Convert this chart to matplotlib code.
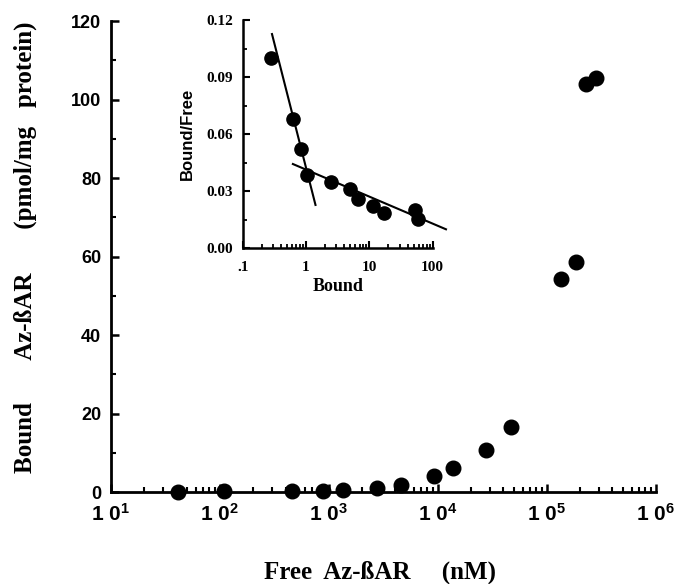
import matplotlib
matplotlib.use("Agg")
import matplotlib.pyplot as plt
from matplotlib.ticker import LogLocator, FixedLocator, FixedFormatter, NullFormatter, MultipleLocator
import numpy as np

# ---- data ----
free_nM = [41, 109, 455, 890, 1350, 2770, 4550, 9250, 13800, 27500, 46400,
           136000, 187000, 228000, 282000]
bound_main = [0.0, 0.3, 0.3, 0.3, 0.6, 1.0, 1.8, 4.1, 6.0, 10.7, 16.6,
              54.4, 58.7, 103.9, 105.4]

inset_bound = [0.28, 0.62, 0.83, 1.04, 2.5, 4.9, 6.6, 11.4, 17.0, 53.0, 58.0]
inset_bf = [0.100, 0.068, 0.052, 0.0385, 0.035, 0.031, 0.026, 0.022, 0.0187, 0.020, 0.0152]

fit_high_x = [0.29, 1.41]
fit_high_y = [0.1126, 0.0228]
fit_low_x = [0.62, 162.0]
fit_low_y = [0.0443, 0.010]

main_xticks = [1e1, 1e2, 1e3, 1e4, 1e5, 1e6]
main_xticklabels = [r"$\mathbf{1\ 0^{1}}$", r"$\mathbf{1\ 0^{2}}$", r"$\mathbf{1\ 0^{3}}$",
                    r"$\mathbf{1\ 0^{4}}$", r"$\mathbf{1\ 0^{5}}$", r"$\mathbf{1\ 0^{6}}$"]
main_yticks = [0, 20, 40, 60, 80, 100, 120]
inset_xticks = [0.1, 1, 10, 100]
inset_xticklabels = [".1", "1", "10", "100"]
inset_yticks = [0.0, 0.03, 0.06, 0.09, 0.12]
inset_yticklabels = ["0.00", "0.03", "0.06", "0.09", "0.12"]

plt.rcParams['mathtext.fontset'] = 'custom'
plt.rcParams['mathtext.rm'] = 'Liberation Sans:bold'
plt.rcParams['mathtext.it'] = 'Liberation Sans:bold'
plt.rcParams['mathtext.bf'] = 'Liberation Sans:bold'

SANS = ['Liberation Sans Narrow', 'Liberation Sans', 'DejaVu Sans']
SERIF = ['Liberation Serif', 'DejaVu Serif']

fig = plt.figure(figsize=(6.81, 5.84), dpi=100)
ax = fig.add_axes([0.163, 0.1575, 0.800, 0.8065])

ax.set_xscale('log')
ax.set_xlim(10, 1e6)
ax.set_ylim(0, 120)
ax.plot(free_nM, bound_main, 'o', color='black', ms=10.5, clip_on=False, zorder=5)

for s in ['top', 'right']:
    ax.spines[s].set_visible(False)
for s in ['left', 'bottom']:
    ax.spines[s].set_linewidth(2.0)

ax.xaxis.set_major_locator(FixedLocator(main_xticks))
ax.xaxis.set_major_formatter(FixedFormatter(main_xticklabels))
ax.xaxis.set_minor_locator(LogLocator(base=10, subs=np.arange(2, 10), numticks=20))
ax.xaxis.set_minor_formatter(NullFormatter())
ax.yaxis.set_major_locator(FixedLocator(main_yticks))
ax.yaxis.set_minor_locator(MultipleLocator(10))
ax.tick_params(axis='both', which='major', direction='in', length=6, width=1.8)
ax.tick_params(axis='both', which='minor', direction='in', length=3.5, width=1.5)
ax.tick_params(axis='x', which='major', pad=8, labelsize=15)
ax.tick_params(axis='y', which='major', pad=7, labelsize=13)
for lbl in ax.get_yticklabels():
    lbl.set_family(SANS)
    lbl.set_fontweight('bold')

fig.text(380/681, 1 - 572/584, "Free  Az-\u00dfAR     (nM)", ha='center', va='center',
         fontsize=18, fontweight='bold', family=SERIF)
fig.text(25/681, 1 - 247/584, "Bound       Az-\u00dfAR       (pmol/mg   protein)",
         ha='center', va='center', rotation=90,
         fontsize=18, fontweight='bold', family=SERIF)

# ---- inset ----
ins = fig.add_axes([0.3564, 0.5748, 0.279, 0.391])
ins.set_xscale('log')
ins.set_xlim(0.1, 100)
ins.set_ylim(0, 0.12)
ins.plot(inset_bound, inset_bf, 'o', color='black', ms=9.5, clip_on=False, zorder=5)
ins.plot(fit_high_x, fit_high_y, '-', color='black', lw=1.5, clip_on=False)
ins.plot(fit_low_x, fit_low_y, '-', color='black', lw=1.5, clip_on=False)
for s in ['top', 'right']:
    ins.spines[s].set_visible(False)
for s in ['left', 'bottom']:
    ins.spines[s].set_linewidth(1.8)
ins.xaxis.set_major_locator(FixedLocator(inset_xticks))
ins.xaxis.set_major_formatter(FixedFormatter(inset_xticklabels))
ins.xaxis.set_minor_locator(LogLocator(base=10, subs=np.arange(2, 10), numticks=20))
ins.xaxis.set_minor_formatter(NullFormatter())
ins.yaxis.set_major_locator(FixedLocator(inset_yticks))
ins.yaxis.set_major_formatter(FixedFormatter(inset_yticklabels))
ins.yaxis.set_minor_locator(MultipleLocator(0.015))
ins.tick_params(axis='both', which='major', direction='in', length=5, width=1.5, labelsize=11)
ins.tick_params(axis='both', which='minor', direction='in', length=3, width=1.3)
ins.tick_params(axis='x', which='major', pad=9)
ins.tick_params(axis='y', which='major', pad=7)
for lbl in ins.get_xticklabels() + ins.get_yticklabels():
    lbl.set_family(SERIF)
    lbl.set_fontweight('bold')
ins.set_xlabel("Bound", fontsize=13, fontweight='bold', family=SERIF, labelpad=3)
ins.set_ylabel("Bound/Free", fontsize=12, fontweight='bold', family=SANS, labelpad=8)

fig.savefig("out.png", dpi=100)
